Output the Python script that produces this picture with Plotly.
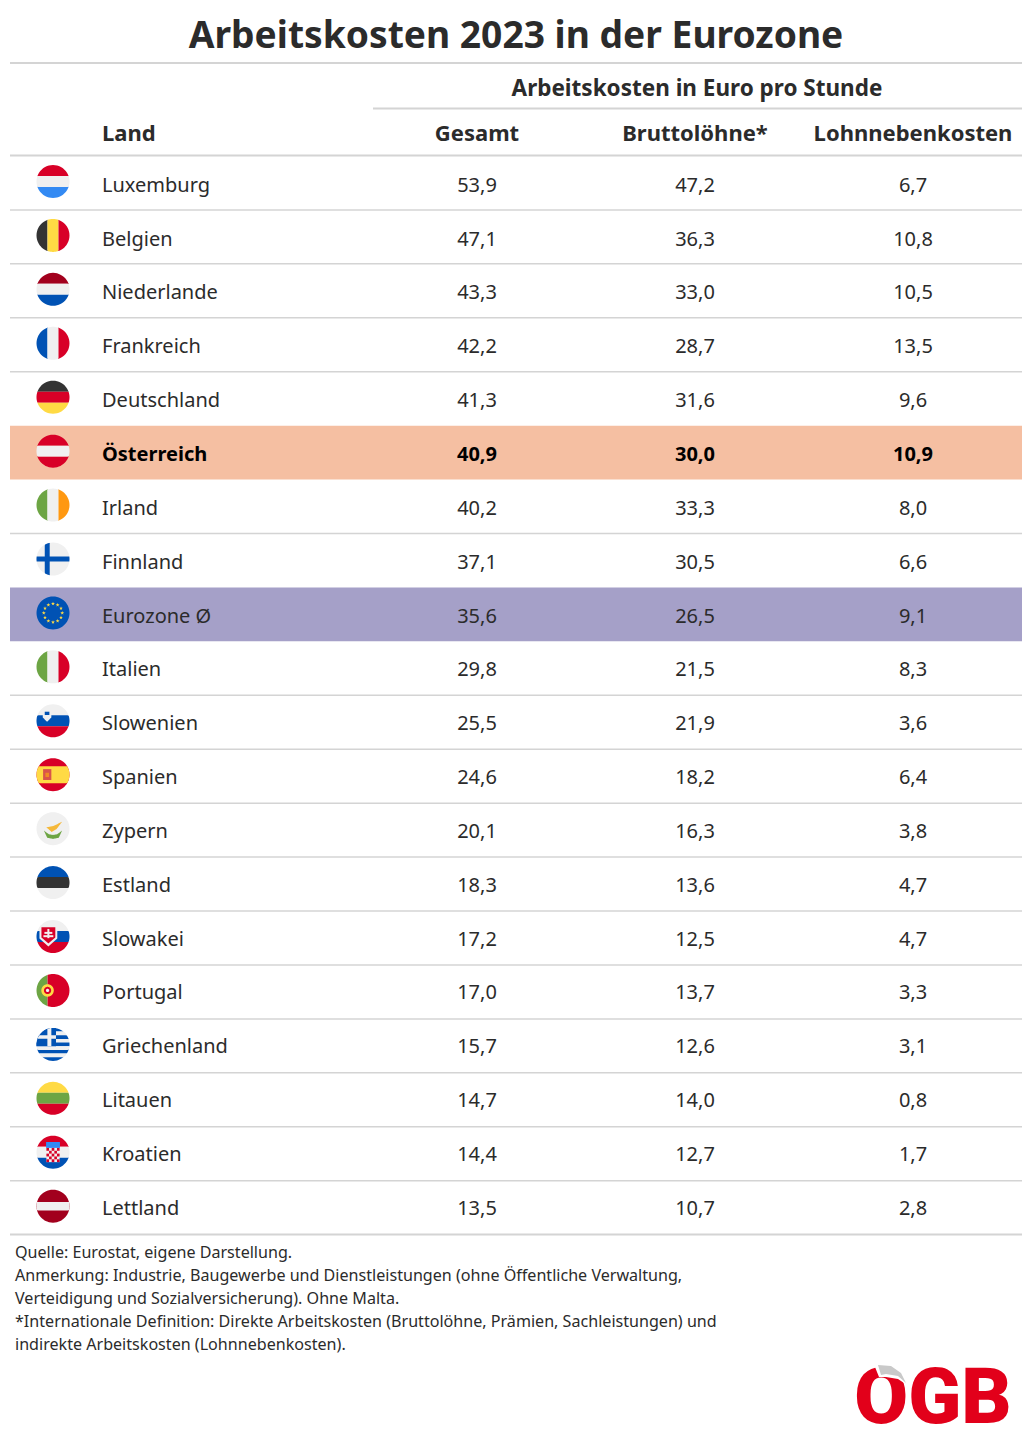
import math
import plotly.graph_objects as go

# ---------- data ----------
laender = ["Luxemburg", "Belgien", "Niederlande", "Frankreich", "Deutschland", "Österreich",
           "Irland", "Finnland", "Eurozone Ø", "Italien", "Slowenien", "Spanien", "Zypern",
           "Estland", "Slowakei", "Portugal", "Griechenland", "Litauen", "Kroatien", "Lettland"]
gesamt = [53.9, 47.1, 43.3, 42.2, 41.3, 40.9, 40.2, 37.1, 35.6, 29.8,
          25.5, 24.6, 20.1, 18.3, 17.2, 17.0, 15.7, 14.7, 14.4, 13.5]
bruttoloehne = [47.2, 36.3, 33.0, 28.7, 31.6, 30.0, 33.3, 30.5, 26.5, 21.5,
                21.9, 18.2, 16.3, 13.6, 12.5, 13.7, 12.6, 14.0, 12.7, 10.7]
lohnnebenkosten = [6.7, 10.8, 10.5, 13.5, 9.6, 10.9, 8.0, 6.6, 9.1, 8.3,
                   3.6, 6.4, 3.8, 4.7, 4.7, 3.3, 3.1, 0.8, 1.7, 2.8]
spalten = ["Gesamt", "Bruttolöhne*", "Lohnnebenkosten"]
titel = "Arbeitskosten 2023 in der Eurozone"
ueberschrift = "Arbeitskosten in Euro pro Stunde"
anmerkungen = ["Quelle: Eurostat, eigene Darstellung.",
               "Anmerkung: Industrie, Baugewerbe und Dienstleistungen (ohne Öffentliche Verwaltung,",
               "Verteidigung und Sozialversicherung). Ohne Malta.",
               "*Internationale Definition: Direkte Arbeitskosten (Bruttolöhne, Prämien, Sachleistungen) und",
               "indirekte Arbeitskosten (Lohnnebenkosten)."]

# ---------- colours ----------
ROT = "#D80027"
WEISS = "#F0F0F0"
BLAU = "#0052B4"
HELLBLAU = "#338AF3"
SCHWARZ = "#333333"
GELB = "#FFDA44"
GRUEN = "#6DA544"
ORANGE = "#FF9811"
DUNKELROT = "#A2001D"
TEXT = "#2B2B2B"
LINIE = "#D4D4D4"

# stripes of the simple flags, h = horizontal, v = vertical
streifen = {
    "Luxemburg": ("h", [ROT, WEISS, HELLBLAU]),
    "Belgien": ("v", [SCHWARZ, GELB, ROT]),
    "Niederlande": ("h", [DUNKELROT, WEISS, BLAU]),
    "Frankreich": ("v", [BLAU, WEISS, ROT]),
    "Deutschland": ("h", [SCHWARZ, ROT, GELB]),
    "Österreich": ("h", [ROT, WEISS, ROT]),
    "Irland": ("v", [GRUEN, WEISS, ORANGE]),
    "Italien": ("v", [GRUEN, WEISS, ROT]),
    "Slowenien": ("h", [WEISS, BLAU, ROT]),
    "Estland": ("h", [BLAU, SCHWARZ, WEISS]),
    "Slowakei": ("h", [WEISS, BLAU, ROT]),
    "Litauen": ("h", [GELB, GRUEN, ROT]),
    "Kroatien": ("h", [ROT, WEISS, BLAU]),
}

# ---------- layout helpers ----------
ZEILE_OBEN = 156
ZEILE_H = 53.93
FLAG_X = 53
FLAG_R = 16.5
shapes = []


def zeile_y(i):
    return ZEILE_OBEN + i * ZEILE_H


def linie(x0, x1, y, breite=1.5):
    shapes.append(dict(type="line", xref="x", yref="y", x0=x0, x1=x1, y0=y, y1=y,
                       line=dict(color=LINIE, width=breite), layer="below"))


# polygon in flag units (-1..1), anything outside the circle gets pushed back onto it
def poly(i, punkte, farbe):
    cy = zeile_y(i) + 25.5
    dicht = []
    for k in range(len(punkte)):
        a = punkte[k]
        b = punkte[(k + 1) % len(punkte)]
        for s in range(16):
            t = s / 16
            u = a[0] + (b[0] - a[0]) * t
            v = a[1] + (b[1] - a[1]) * t
            d = math.hypot(u, v)
            if d > 1:
                u, v = u / d, v / d
            dicht.append((FLAG_X + u * FLAG_R, cy + v * FLAG_R))
    pfad = "M" + " L".join(f"{x:.2f},{y:.2f}" for x, y in dicht) + " Z"
    shapes.append(dict(type="path", xref="x", yref="y", path=pfad, fillcolor=farbe,
                       line=dict(width=0), layer="below"))


def rechteck(i, u0, v0, u1, v1, farbe):
    poly(i, [(u0, v0), (u1, v0), (u1, v1), (u0, v1)], farbe)


def kreis(i, u, v, r, farbe):
    poly(i, [(u + r * math.cos(k / 24 * 2 * math.pi), v + r * math.sin(k / 24 * 2 * math.pi))
             for k in range(24)], farbe)


def stern(i, u, v, r, farbe):
    pts = []
    for k in range(10):
        rr = r if k % 2 == 0 else r * 0.42
        w = -math.pi / 2 + k * math.pi / 5
        pts.append((u + rr * math.cos(w), v + rr * math.sin(w)))
    poly(i, pts, farbe)


def flagge(i, land):
    if land in streifen:
        art, farben = streifen[land]
        for k, f in enumerate(farben):
            a, b = -1 + k * 2 / 3, -1 + (k + 1) * 2 / 3
            if art == "h":
                rechteck(i, -1.01, a, 1.01, b, f)
            else:
                rechteck(i, a, -1.01, b, 1.01, f)
    if land == "Finnland":
        rechteck(i, -1.01, -1.01, 1.01, 1.01, WEISS)
        rechteck(i, -0.5, -1.01, -0.2, 1.01, BLAU)
        rechteck(i, -1.01, -0.15, 1.01, 0.15, BLAU)
    elif land == "Eurozone Ø":
        rechteck(i, -1.01, -1.01, 1.01, 1.01, BLAU)
        for k in range(12):
            w = k * math.pi / 6
            stern(i, 0.56 * math.cos(w), 0.56 * math.sin(w), 0.12, GELB)
    elif land == "Slowenien":
        poly(i, [(-0.62, -0.62), (-0.1, -0.62), (-0.1, -0.2), (-0.36, 0.06), (-0.62, -0.2)], WEISS)
        rechteck(i, -0.5, -0.55, -0.22, -0.35, BLAU)
    elif land == "Spanien":
        rechteck(i, -1.01, -1.01, 1.01, 1.01, ROT)
        rechteck(i, -1.01, -0.52, 1.01, 0.52, GELB)
        rechteck(i, -0.6, -0.34, -0.1, 0.32, "#D9534A")
        rechteck(i, -0.46, -0.12, -0.24, 0.14, "#F08A24")
    elif land == "Zypern":
        rechteck(i, -1.01, -1.01, 1.01, 1.01, WEISS)
        poly(i, [(-0.4, -0.08), (0.02, -0.16), (0.55, -0.42), (0.22, 0.02), (-0.08, 0.2)], "#F5B83A")
        poly(i, [(-0.55, 0.12), (-0.25, 0.34), (0, 0.38), (0.25, 0.34), (0.55, 0.12),
                 (0.35, 0.55), (0, 0.62), (-0.35, 0.55)], GRUEN)
    elif land == "Slowakei":
        poly(i, [(-0.82, -0.66), (0.26, -0.66), (0.26, 0.12), (-0.28, 0.6), (-0.82, 0.12)], WEISS)
        poly(i, [(-0.7, -0.56), (0.14, -0.56), (0.14, 0.06), (-0.28, 0.42), (-0.7, 0.06)], ROT)
        rechteck(i, -0.34, -0.46, -0.22, 0.1, WEISS)
        rechteck(i, -0.52, -0.28, -0.04, -0.16, WEISS)
        rechteck(i, -0.58, -0.08, 0.02, 0.04, WEISS)
    elif land == "Portugal":
        rechteck(i, -1.01, -1.01, -0.33, 1.01, GRUEN)
        rechteck(i, -0.33, -1.01, 1.01, 1.01, ROT)
        kreis(i, -0.33, 0, 0.38, GELB)
        kreis(i, -0.33, 0, 0.22, ROT)
        kreis(i, -0.33, 0, 0.1, WEISS)
    elif land == "Griechenland":
        for k in range(9):
            a = -1 + k * 2 / 9
            rechteck(i, -1.01, a, 1.01, a + 2 / 9, BLAU if k % 2 == 0 else WEISS)
        rechteck(i, -1.01, -1.01, 0.18, 0.11, BLAU)
        rechteck(i, -0.34, -1.01, -0.1, 0.11, WEISS)
        rechteck(i, -1.01, -0.56, 0.18, -0.34, WEISS)
    elif land == "Lettland":
        rechteck(i, -1.01, -1.01, 1.01, 1.01, DUNKELROT)
        rechteck(i, -1.01, -0.26, 1.01, 0.26, WEISS)
    elif land == "Kroatien":
        rechteck(i, -0.42, -0.62, 0.42, -0.26, "#338AF3")
        rechteck(i, -0.4, -0.26, 0.4, 0.6, WEISS)
        for a in range(5):
            for b in range(5):
                if (a + b) % 2 == 0:
                    rechteck(i, -0.4 + a * 0.16, -0.26 + b * 0.172,
                             -0.24 + a * 0.16, -0.088 + b * 0.172, ROT)


def logo_poly(punkte, farbe):
    pfad = "M" + " L".join(f"{x},{y}" for x, y in punkte) + " Z"
    shapes.append(dict(type="path", xref="x", yref="y", path=pfad, fillcolor=farbe,
                       line=dict(width=0), layer="above"))


# ---------- shapes ----------
shapes.append(dict(type="rect", xref="x", yref="y", x0=10, x1=1022, y0=zeile_y(5), y1=zeile_y(6),
                   fillcolor="#F5BFA2", line=dict(width=0), layer="below"))
shapes.append(dict(type="rect", xref="x", yref="y", x0=10, x1=1022, y0=zeile_y(8), y1=zeile_y(9),
                   fillcolor="#A5A0C8", line=dict(width=0), layer="below"))
linie(10, 1022, 63, 2)
linie(373, 1022, 108.5, 2)
linie(10, 1022, 155.5, 2)
for i in range(1, 21):
    if i not in (5, 6, 8, 9):
        linie(10, 1022, zeile_y(i), 2 if i == 20 else 1.5)
for i, land in enumerate(laender):
    flagge(i, land)

# logo: the umlaut is a grey curl in the original, so the dots get covered
logo_poly([(850, 1335), (915, 1335), (915, 1365), (850, 1365)], "white")
logo_poly([(875, 1367), (891, 1363), (904, 1371), (910, 1387), (898, 1379), (886, 1377), (879, 1377)], "white")
logo_poly([(878, 1365), (891, 1366), (901, 1373), (906, 1383), (898, 1376), (886, 1374), (881, 1375)], "#C9C9C9")


def komma(werte):
    return [f"{w:.1f}".replace(".", ",") for w in werte]


fig = go.Figure()
text_y = [186.7 + i * 53.85 for i in range(len(laender))]
farben = ["#000000" if l == "Österreich" else TEXT for l in laender]
gewichte = [700 if l == "Österreich" else 400 for l in laender]
SCHRIFT = "Noto Sans"

fig.add_trace(go.Scatter(x=[102] * len(laender), y=text_y, text=laender, mode="text",
                         textposition="middle right",
                         textfont=dict(family=SCHRIFT, size=20, color=farben, weight=gewichte)))
for x, werte in zip([477, 695, 913], [gesamt, bruttoloehne, lohnnebenkosten]):
    fig.add_trace(go.Scatter(x=[x] * len(werte), y=text_y, text=komma(werte), mode="text",
                             textposition="middle center",
                             textfont=dict(family=SCHRIFT, size=20, color=farben, weight=gewichte)))

# header row
fig.add_trace(go.Scatter(x=[102], y=[135], text=["Land"], mode="text", textposition="middle right",
                         textfont=dict(family=SCHRIFT, size=22, color=TEXT, weight=700)))
fig.add_trace(go.Scatter(x=[477, 695, 913], y=[135] * 3, text=spalten, mode="text",
                         textposition="middle center",
                         textfont=dict(family=SCHRIFT, size=22, color=TEXT, weight=700)))
fig.add_trace(go.Scatter(x=[697], y=[90], text=[ueberschrift], mode="text",
                         textposition="middle center",
                         textfont=dict(family=SCHRIFT, size=22.5, color=TEXT, weight=700)))
fig.add_trace(go.Scatter(x=[516], y=[39], text=[titel], mode="text", textposition="middle center",
                         textfont=dict(family=SCHRIFT, size=37.2, color=TEXT, weight=700)))
for k, zeile in enumerate(anmerkungen):
    fig.add_trace(go.Scatter(x=[15], y=[1254 + k * 23], text=[zeile], mode="text",
                             textposition="middle right",
                             textfont=dict(family=SCHRIFT, size=16.1, color=TEXT)))

# logo
fig.add_trace(go.Scatter(x=[933], y=[1403], text=["ÖGB"], mode="text", textposition="middle center",
                         textfont=dict(family="Roboto", size=78, color="#E2001A", weight=900)))

fig.update_layout(width=1032, height=1440, margin=dict(l=0, r=0, t=0, b=0),
                  paper_bgcolor="white", plot_bgcolor="white", showlegend=False,
                  hovermode=False, shapes=shapes,
                  xaxis=dict(range=[0, 1032], visible=False, fixedrange=True),
                  yaxis=dict(range=[1440, 0], visible=False, fixedrange=True))

fig.write_html("out.html", config=dict(displayModeBar=False),
               post_script="document.body.style.margin='0';")
